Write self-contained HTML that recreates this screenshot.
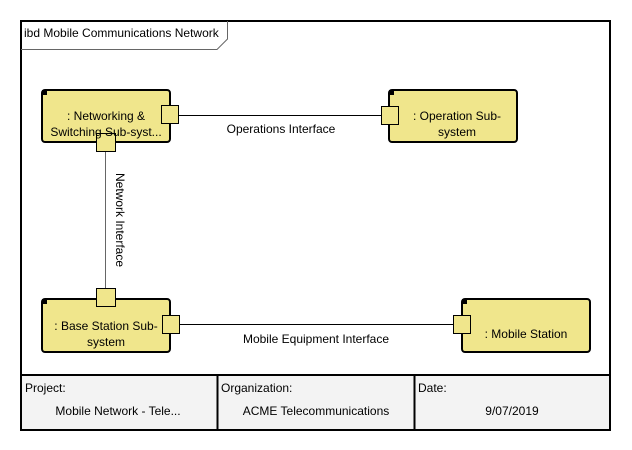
<!DOCTYPE html>
<html><head><meta charset="utf-8"><style>
html,body{margin:0;padding:0;background:#fff;width:632px;height:450px;overflow:hidden}
svg{display:block;font-family:"Segoe UI","Liberation Sans","DejaVu Sans",sans-serif;font-size:12px}
</style></head><body>
<svg width="632" height="450" viewBox="0 0 632 450" xmlns="http://www.w3.org/2000/svg">
<rect x="0" y="0" width="632" height="450" fill="#fff"/>
<rect x="21" y="375" width="589" height="55" fill="#f3f3f3"/>
<line x1="21" y1="375" x2="610" y2="375" stroke="#000" stroke-width="2"/>
<line x1="217.5" y1="375" x2="217.5" y2="430" stroke="#000" stroke-width="2"/>
<line x1="414.5" y1="375" x2="414.5" y2="430" stroke="#000" stroke-width="2"/>
<text x="25" y="392" fill="#000">Project:</text>
<text x="118" y="415" text-anchor="middle" fill="#000">Mobile Network - Tele...</text>
<text x="221" y="392" fill="#000">Organization:</text>
<text x="316" y="415" text-anchor="middle" fill="#000">ACME Telecommunications</text>
<text x="418" y="392" fill="#000">Date:</text>
<text x="512" y="415" text-anchor="middle" fill="#000">9/07/2019</text>
<rect x="21" y="21" width="589" height="409" fill="none" stroke="#000" stroke-width="2"/>
<path d="M21 49.5 H217 L227.5 39 V21" fill="none" stroke="#666" stroke-width="1"/>
<text x="24" y="37" fill="#000">ibd Mobile Communications Network</text>
<line x1="178" y1="115.5" x2="381" y2="115.5" stroke="#000"/>
<text x="281" y="133" text-anchor="middle" fill="#000">Operations Interface</text>
<line x1="105.5" y1="151" x2="105.5" y2="288" stroke="#666"/>
<text transform="translate(116,220) rotate(90)" text-anchor="middle" fill="#000">Network Interface</text>
<line x1="179" y1="324.5" x2="453" y2="324.5" stroke="#000"/>
<text x="316" y="343" text-anchor="middle" fill="#000">Mobile Equipment Interface</text>
<g stroke="#000" stroke-width="2" fill="#f0e68c">
<rect x="42" y="90" width="128" height="52" rx="3"/>
<rect x="389" y="90" width="128" height="52" rx="3"/>
<rect x="42" y="299" width="128" height="53" rx="3"/>
<rect x="462" y="299" width="128" height="53" rx="3"/>
</g>
<g fill="#000">
<rect x="42" y="90" width="5" height="5"/>
<rect x="389" y="90" width="5" height="5"/>
<rect x="42" y="299" width="5" height="5"/>
<rect x="462" y="299" width="5" height="5"/>
</g>
<g stroke="#000" stroke-width="1" fill="#f0e68c">
<rect x="161.5" y="105.5" width="17" height="18"/>
<rect x="96.5" y="133.5" width="19" height="18"/>
<rect x="381.5" y="106.5" width="17" height="18"/>
<rect x="96.5" y="288.5" width="19" height="18"/>
<rect x="162.5" y="315.5" width="17" height="18"/>
<rect x="453.5" y="315.5" width="17" height="18"/>
</g>
<g fill="#000" text-anchor="middle">
<text x="106" y="120">: Networking &amp;</text>
<text x="106" y="136">Switching Sub-syst...</text>
<text x="457" y="120">: Operation Sub-</text>
<text x="457" y="136">system</text>
<text x="106" y="330">: Base Station Sub-</text>
<text x="106" y="346">system</text>
<text x="526" y="338">: Mobile Station</text>
</g>
</svg>
</body></html>
